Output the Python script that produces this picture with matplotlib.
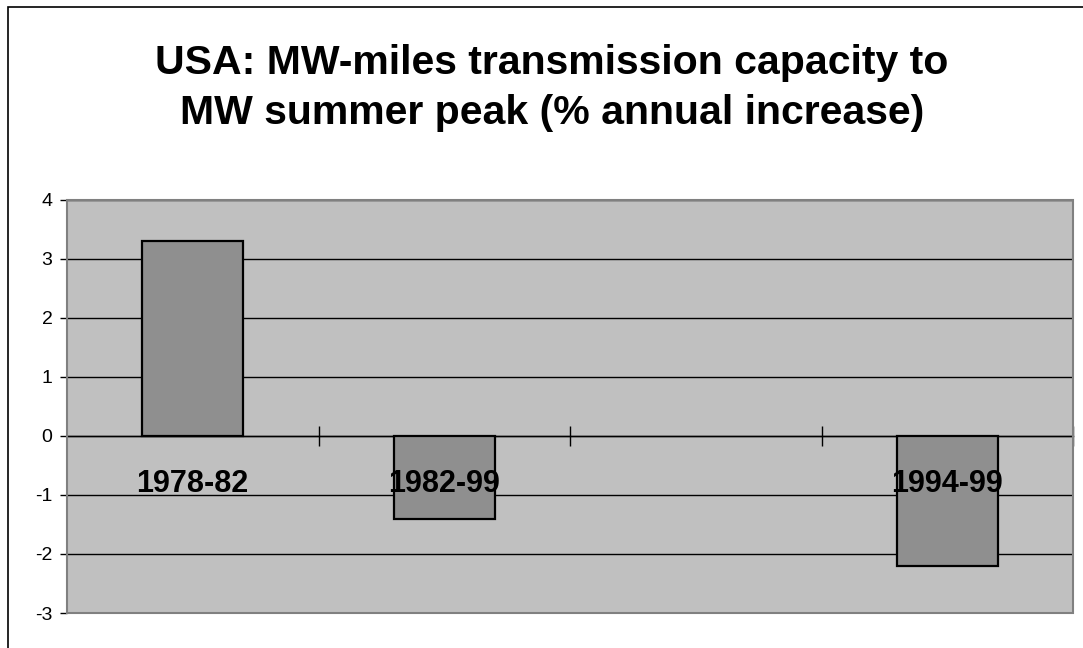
import matplotlib
matplotlib.use("Agg")
import matplotlib.pyplot as plt
from matplotlib.patches import Rectangle
from matplotlib.ticker import FuncFormatter

plt.rcParams['font.family'] = ['Liberation Sans', 'DejaVu Sans']

# data
periods = ["1978-82", "1982-99", "", "1994-99"]
increase = [3.3, -1.4, None, -2.2]
title = "USA: MW-miles transmission capacity to\nMW summer peak (% annual increase)"

fig = plt.figure(figsize=(10.83, 6.48), dpi=100)
ax = fig.add_axes([67 / 1083, 1 - 613 / 648, (1073 - 67) / 1083, (613 - 200) / 648])

ax.set_facecolor('#c0c0c0')
pos = [i + 0.5 for i in range(len(periods))]
for x, v, lab in zip(pos, increase, periods):
    if v is None:
        continue
    ax.bar(x, v, width=0.4, color='#8f8f8f', edgecolor='black', linewidth=1.6, zorder=3)
    ax.text(x, -0.82, lab, ha='center', va='center', fontsize=22, fontweight='bold', zorder=5)

ax.set_xlim(0, len(periods))
ax.set_ylim(-3, 4)
ax.set_yticks(range(-3, 5))
ax.yaxis.set_major_formatter(FuncFormatter(lambda v, p: "%d" % v))
ax.tick_params(axis='y', direction='out', length=5, width=1, labelsize=14, pad=5.5)
ax.yaxis.grid(True, color='black', linewidth=1)
ax.set_axisbelow(True)

# category axis sits at zero
ax.spines['bottom'].set_position(('data', 0))
ax.spines['bottom'].set_linewidth(1)
ax.set_xticks(range(1, len(periods) + 1))
ax.set_xticklabels([])
ax.tick_params(axis='x', direction='inout', length=14, width=1)
for s in ['top', 'right']:
    ax.spines[s].set_visible(False)
ax.spines['left'].set_linewidth(1.2)

# grey plot-area border
ax.add_patch(Rectangle((0, 0), 1, 1, transform=ax.transAxes, fill=False,
                       edgecolor='#808080', linewidth=1.5, zorder=4, clip_on=False))

fig.text(552 / 1083, 1 - 88 / 648, title, ha='center', va='center',
         fontsize=29.5, fontweight='bold', linespacing=1.39)

# chart border (top and left visible)
fig.patches.append(Rectangle((8 / 1083, -0.01), 1.05, 1 - 7 / 648 + 0.01,
                             transform=fig.transFigure, fill=False,
                             edgecolor='black', linewidth=1.2))

fig.savefig("out.png", dpi=100)
